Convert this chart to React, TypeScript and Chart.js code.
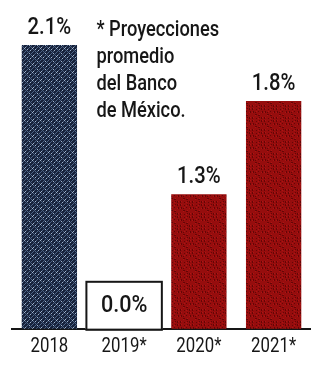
import React, { useEffect, useRef } from "react";
import { Chart, registerables } from "chart.js";
Chart.register(...registerables);

const categories = ["2018", "2019*", "2020*", "2021*"];
const values = [2.1, 0.0, 1.3, 1.8];
const valueLabels = ["2.1%", "0.0%", "1.3%", "1.8%"];
const noteLines = ["* Proyecciones", "promedio", "del Banco", "de México."];
const yMin = 0.58;
const yMax = 2.1;

const FONT = 'Roboto, "Noto Sans", sans-serif';
const INK = "#161616";

function navyPattern(ctx: CanvasRenderingContext2D) {
  const c = document.createElement("canvas");
  c.width = 8;
  c.height = 8;
  const g = c.getContext("2d")!;
  g.fillStyle = "#17223b";
  g.fillRect(0, 0, 8, 8);
  for (let i = 0; i < 8; i++) {
    for (let j = 0; j < 8; j++) {
      if ((i + j) % 2 === 0 && ((i + j) % 4 === 0 || (i - j + 8) % 8 === 0)) {
        g.fillStyle = (i * 3 + j) % 5 === 0 ? "#9fb3cc" : "#4b6284";
        g.fillRect(i, j, 1, 1);
      }
    }
  }
  return ctx.createPattern(c, "repeat")!;
}

function redPattern(ctx: CanvasRenderingContext2D) {
  const c = document.createElement("canvas");
  c.width = 12;
  c.height = 12;
  const g = c.getContext("2d")!;
  g.fillStyle = "#960d0d";
  g.fillRect(0, 0, 12, 12);
  for (let i = 0; i < 12; i++) {
    for (let j = 0; j < 12; j++) {
      const h = (i * 7 + j * 13 + i * j) % 9;
      if (h === 0 || h === 4) {
        g.fillStyle = "#640606";
        g.fillRect(i, j, 1, 1);
      } else if (h === 7) {
        g.fillStyle = "#b01313";
        g.fillRect(i, j, 1, 1);
      }
    }
  }
  return ctx.createPattern(c, "repeat")!;
}

function drawText(
  ctx: CanvasRenderingContext2D,
  text: string,
  x: number,
  y: number,
  align: CanvasTextAlign,
  size: number,
  sx: number,
  weight: number
) {
  ctx.save();
  ctx.translate(x, y);
  ctx.scale(sx, 1);
  ctx.font = `${weight} ${size}px ${FONT}`;
  ctx.textAlign = align;
  ctx.textBaseline = "alphabetic";
  ctx.fillStyle = INK;
  ctx.fillText(text, 0, 0);
  ctx.restore();
}

const labelPlugin = {
  id: "labelPlugin",
  afterDatasetsDraw(chart: any) {
    const ctx: CanvasRenderingContext2D = chart.ctx;
    const meta = chart.getDatasetMeta(0);
    const area = chart.chartArea;
    const xScale = chart.scales.x;
    let boxLeft = 0;
    meta.data.forEach((el: any, i: number) => {
      if (values[i] === 0) {
        const w = el.width * 1.4;
        const h = 48;
        const x0 = el.x - w / 2;
        boxLeft = x0;
        ctx.save();
        ctx.fillStyle = "#ffffff";
        ctx.fillRect(x0, area.bottom - h, w, h);
        ctx.strokeStyle = INK;
        ctx.lineWidth = 2;
        ctx.strokeRect(x0 + 1, area.bottom - h + 1, w - 2, h);
        ctx.restore();
        drawText(ctx, valueLabels[i], el.x, area.bottom - 17, "center", 24, 0.9, 500);
      } else {
        drawText(ctx, valueLabels[i], el.x, el.y - 11, "center", 23, 0.88, 500);
      }
    });
    noteLines.forEach((line, k) => {
      drawText(ctx, line, boxLeft + 11, 36 + k * 27, "left", 22, 0.83, 500);
    });
    categories.forEach((cat, i) => {
      const x = xScale.getPixelForTick(i);
      drawText(ctx, cat, x, area.bottom + 23, "center", 21, 0.8, 400);
    });
  },
};

export default function App() {
  const ref = useRef<HTMLCanvasElement>(null);
  useEffect(() => {
    document.body.style.margin = "0";
    const canvas = ref.current!;
    const ctx = canvas.getContext("2d")!;
    const navy = navyPattern(ctx);
    const red = redPattern(ctx);
    const chart = new Chart(canvas, {
      type: "bar",
      data: {
        labels: categories,
        datasets: [
          {
            data: values,
            backgroundColor: values.map((v, i) => (i === 0 ? navy : v === 0 ? "rgba(0,0,0,0)" : red)),
            borderWidth: 0,
            barPercentage: 0.74,
            categoryPercentage: 1,
          },
        ],
      },
      options: {
        responsive: false,
        animation: false,
        layout: { padding: { top: 45, left: 12, right: 0, bottom: 4 } },
        plugins: { legend: { display: false }, tooltip: { enabled: false } },
        scales: {
          x: {
            grid: { display: false },
            border: { display: true, color: INK, width: 2 },
            ticks: { color: "rgba(0,0,0,0)", font: { family: FONT, size: 21 }, padding: 3 },
          },
          y: {
            display: false,
            min: yMin,
            max: yMax,
          },
        },
      },
      plugins: [labelPlugin],
    });
    return () => chart.destroy();
  }, []);
  return (
    <div style={{ width: 311, height: 372, background: "#ffffff" }}>
      <canvas ref={ref} width={311} height={372} />
    </div>
  );
}
